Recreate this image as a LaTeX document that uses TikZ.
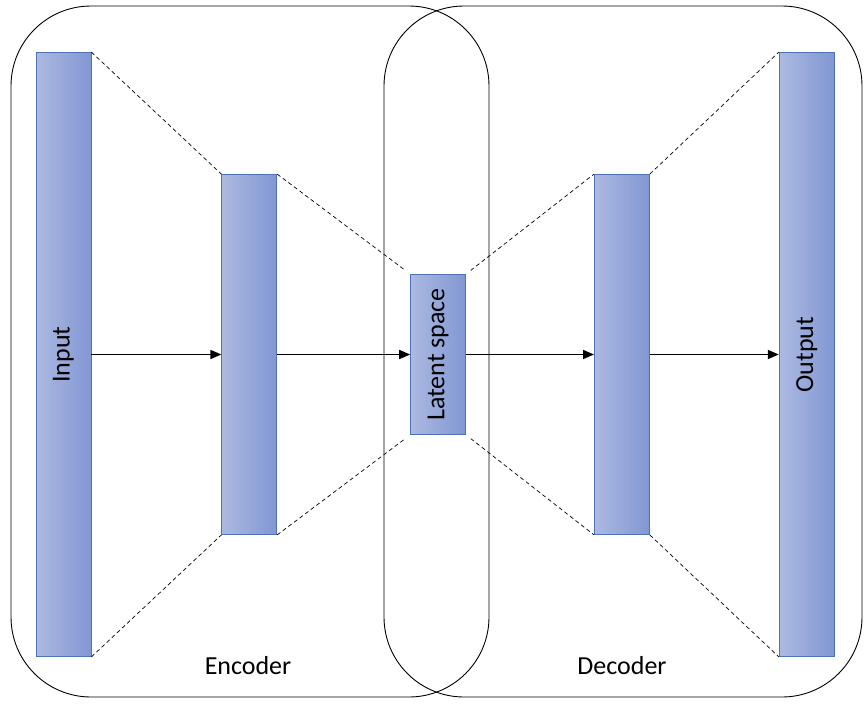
\documentclass[tikz,border=0pt]{standalone}
\usepackage{fontspec}
\setmainfont{Carlito}
\usetikzlibrary{positioning,arrows.meta}
\definecolor{barLeft}{HTML}{ACB9E1}
\definecolor{barRight}{HTML}{8197D3}
\definecolor{barEdge}{HTML}{4F71B8}
\tikzset{
     layer/.style={draw=barEdge, line width=0.8pt, left color=barLeft, right color=barRight, minimum width=55pt, inner sep=0pt},
     arrow/.style={-{Triangle[length=11pt,width=9pt]}, line width=1.6pt},
     link/.style={dash pattern=on 4pt off 3pt, line width=0.7pt},
     part/.style={draw, rounded corners=80pt, line width=0.9pt, minimum width=478pt, minimum height=691pt, inner sep=0pt},
     tag/.style={font=\fontsize{26}{31}\selectfont}
     }

\begin{document}
\begin{tikzpicture}[x=1pt,y=-1pt]
                    \useasboundingbox (0,0) rectangle (867,707);
                    % Place nodes
                    \node [part] (encoder) at (250,351.5) {};
                    \node [part] (decoder) at (623,351.5) {};
                    \node [layer, minimum height=604pt, label={[tag,rotate=90]center:Input}] (input) at (63.5,354.5) {};
                    \node [layer, minimum height=360pt, right=130pt of input] (encHidden) {};
                    \node [layer, minimum height=160pt, right=133pt of encHidden, label={[tag,rotate=90]center:Latent space}] (latent) {};
                    \node [layer, minimum height=360pt, right=128pt of latent] (decHidden) {};
                    \node [layer, minimum height=604pt, right=129pt of decHidden, label={[tag,rotate=90]center:Output}] (output) {};
                    \node [tag, anchor=base] (encLabel) at (248,674) {Encoder};
                    \node [tag, anchor=base] (decLabel) at (622,674) {Decoder};
                    % Draw edges
                    \draw[arrow] (input) -- (encHidden);
                    \draw[arrow] (encHidden) -- (latent);
                    \draw[arrow] (latent) -- (decHidden);
                    \draw[arrow] (decHidden) -- (output);
                    % Dashed outlines
                    \draw[link] (input.north east) -- (encHidden.north west);
                    \draw[link] (input.south east) -- (encHidden.south west);
                    \draw[link, shorten >=6pt] (encHidden.north east) -- (latent.north west);
                    \draw[link, shorten >=6pt] (encHidden.south east) -- (latent.south west);
                    \draw[link, shorten <=6pt] (latent.north east) -- (decHidden.north west);
                    \draw[link, shorten <=6pt] (latent.south east) -- (decHidden.south west);
                    \draw[link] (decHidden.north east) -- (output.north west);
                    \draw[link] (decHidden.south east) -- (output.south west);
                \end{tikzpicture}
\end{document}
